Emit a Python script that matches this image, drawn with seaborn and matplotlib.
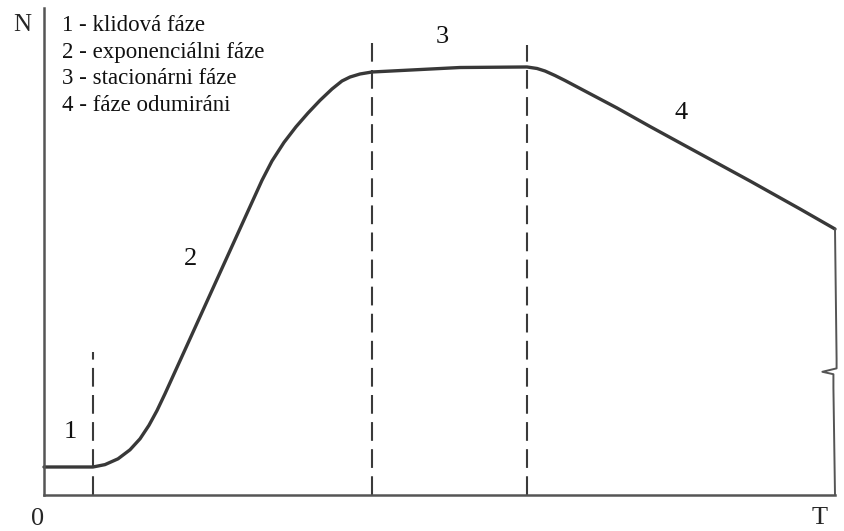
import matplotlib
matplotlib.use("Agg")
import matplotlib.pyplot as plt
import seaborn as sns
import pandas as pd

# Growth curve of a bacterial population (time and N in relative units)
time = [0.0, 6.19, 7.71, 9.36, 10.87, 12.14, 13.27, 14.29, 15.30, 16.31,
        18.46, 21.87, 25.66, 27.56, 28.82, 30.34, 31.86, 33.38, 34.89, 36.41,
        37.67, 38.69, 39.95, 41.47, 52.59, 61.06, 62.33, 63.34, 64.60, 65.87,
        68.14, 72.44, 76.61, 80.78, 85.08, 89.25, 95.58, 100.0]
count = [5.75, 5.75, 6.24, 7.43, 9.28, 11.54, 14.31, 17.35, 20.80, 24.41,
         32.09, 44.29, 57.84, 64.62, 68.58, 72.40, 75.61, 78.44, 81.03, 83.37,
         85.01, 85.83, 86.45, 86.86, 87.78, 87.89, 87.58, 87.06, 86.14, 85.11,
         83.16, 79.47, 75.67, 71.97, 68.17, 64.48, 58.73, 54.62]

# Phase boundaries (time) and the height of each dashed marker
boundary_t = [6.19, 41.47, 61.06]
boundary_top = [29.4, 92.8, 92.4]

phase_labels = ["1", "2", "3", "4"]
legend_lines = ["1 - klidová fáze", "2 - exponenciálni fáze",
                "3 - stacionárni fáze", "4 - fáze odumiráni"]

sns.set_theme(style="white")
plt.rcParams["font.family"] = ["Liberation Serif", "DejaVu Serif"]

fig = plt.figure(figsize=(8.45, 5.31), dpi=100)
ax = fig.add_axes([44 / 845, 36 / 531, 791 / 845, 487 / 531])
ax.set_xlim(0, 100)
ax.set_ylim(0, 100)

df = pd.DataFrame({"t": time, "N": count})
sns.lineplot(data=df, x="t", y="N", ax=ax, color="#383838", linewidth=2.4,
             clip_on=False, sort=False, solid_joinstyle="round",
             solid_capstyle="round")

for bt, top in zip(boundary_t, boundary_top):
    ax.plot([bt, bt], [0, top], color="#3a3a3a", linewidth=1.5,
            dashes=(9, 4), clip_on=False)

# Right-hand edge with a break mark
edge = count[-1]
ax.plot([100, 100.2, 100.2, 98.4, 99.8, 99.8, 100],
        [edge, 28.0, 26.0, 25.3, 24.8, 22.0, 0],
        color="#555555", linewidth=1.4, clip_on=False)

for sp in ["top", "right"]:
    ax.spines[sp].set_visible(False)
for sp in ["left", "bottom"]:
    ax.spines[sp].set_color("#555555")
    ax.spines[sp].set_linewidth(1.8)
ax.set_xticks([])
ax.set_yticks([])
ax.set_xlabel("")
ax.set_ylabel("")

# Phase numbers along the curve
label_t = [3.3, 18.5, 50.4, 80.6]
label_n = [12.9, 48.4, 94.0, 78.4]
for lab, lt, ln in zip(phase_labels, label_t, label_n):
    ax.text(lt, ln, lab, fontsize=19, ha="center", va="center", color="#111111")

# Key describing the phases
for i, line in enumerate(legend_lines):
    ax.text(2.3, 95.3 - i * 5.48, line, fontsize=16.5, ha="left",
            va="baseline", color="#111111", clip_on=False)

ax.text(-2.8, 96.5, "N", fontsize=18, ha="center", va="center", clip_on=False)
ax.text(-0.8, -4.9, "0", fontsize=19, ha="center", va="center", clip_on=False)
ax.text(98.1, -4.7, "T", fontsize=19, ha="center", va="center", clip_on=False)

fig.savefig("out.png", dpi=100)
